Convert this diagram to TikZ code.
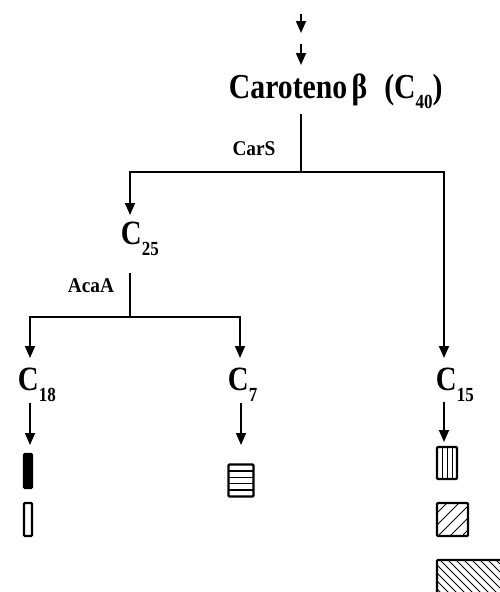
\documentclass[tikz,border=0pt]{standalone}
\usepackage{fontspec}
\setmainfont{Liberation Serif}
\usetikzlibrary{arrows.meta}
\newcommand{\bigC}[1]{\scalebox{0.85}[1]{\fontsize{34}{34}\selectfont\bfseries C\raisebox{-11pt}{\fontsize{20}{20}\selectfont #1}}}
\begin{document}
\begin{tikzpicture}[x=1pt,y=-1pt,line width=1.8pt,
  arr/.style={-{Triangle[length=12pt,width=10pt]}},
  txt/.style={inner sep=0pt,anchor=base west},
  enz/.style={inner sep=0pt,font=\fontsize{21}{21}\selectfont\bfseries},
  boxed/.style={draw,inner sep=0pt,line width=2.4pt,rounded corners=1pt},
  hatch/.style={line width=0.8pt}]
\useasboundingbox (0,0) rectangle (500,592);
\clip (0,0) rectangle (500,592);
% top arrows
\coordinate (t1s) at (301,14); \coordinate (t1e) at (301,33);
\coordinate (t2s) at (301,44); \coordinate (t2e) at (301,65);
\draw[arr] (t1s) -- (t1e);
\draw[arr] (t2s) -- (t2e);
% Caroteno
\node[txt] (car) at (228,98) {\scalebox{0.85}[1]{\fontsize{35}{35}\selectfont\bfseries Caroteno\hspace{5pt}β\hspace{20pt}(C\raisebox{-10pt}{\fontsize{20}{20}\selectfont 40})}};
\coordinate (carb) at (301,114);
\coordinate (j1) at (301,172);
\coordinate (c25in) at (130,215);
\coordinate (c15in) at (444,358);
\draw (carb) -- (j1);
\draw[arr] (j1) -| (c25in);
\draw[arr] (j1) -| (c15in);
\node[enz] (cars) at (254,149) {\scalebox{0.92}[1]{CarS}};
% C25
\node[txt] (c25) at (120,244) {\bigC{25}};
\coordinate (c25b) at (130,273);
\coordinate (j2) at (130,317);
\coordinate (c18in) at (30,358);
\coordinate (c7in) at (240,358);
\draw (c25b) -- (j2);
\draw[arr] (j2) -| (c18in);
\draw[arr] (j2) -| (c7in);
\node[enz] (acaa) at (91,286) {\scalebox{0.92}[1]{AcaA}};
% C18, C7, C15
\node[txt] (c18) at (17,390) {\bigC{18}};
\node[txt] (c7) at (227,390) {\bigC{7}};
\node[txt] (c15) at (435,390) {\bigC{15}};
\coordinate (a18s) at (30,403); \coordinate (a18e) at (30,445);
\coordinate (a7s) at (241,403); \coordinate (a7e) at (241,445);
\coordinate (a15s) at (444,402); \coordinate (a15e) at (444,442);
\draw[arr] (a18s) -- (a18e);
\draw[arr] (a7s) -- (a7e);
\draw[arr] (a15s) -- (a15e);
% products of C18
\node[boxed,fill=black,minimum width=8pt,minimum height=34pt] (p18a) at (28,471) {};
\node[boxed,minimum width=8pt,minimum height=33pt] (p18b) at (28,519.5) {};
% product of C7: horizontal lines
\node[boxed,minimum width=25pt,minimum height=32pt] (p7) at (241,480.5) {};
\begin{scope}
  \clip ([shift={(1.2,1.2)}]p7.north west) rectangle ([shift={(-1.2,-1.2)}]p7.south east);
  \foreach \yy in {470.9,477.3,483.7,490.1}{\draw[line width=1.3pt] (220,\yy) -- (262,\yy);}
\end{scope}
% products of C15
\node[boxed,minimum width=20pt,minimum height=32pt] (p15a) at (447,463) {};
\begin{scope}
  \clip ([shift={(1.2,1.2)}]p15a.north west) rectangle ([shift={(-1.2,-1.2)}]p15a.south east);
  \foreach \xx in {442,447,452}{\draw[line width=1pt] (\xx,440) -- (\xx,485);}
\end{scope}
\node[boxed,minimum width=31pt,minimum height=33pt] (p15b) at (452.5,519.5) {};
\begin{scope}
  \clip ([shift={(1.2,1.2)}]p15b.north west) rectangle ([shift={(-1.2,-1.2)}]p15b.south east);
  \foreach \k in {950,962,974,986,998}{\draw[hatch] (\k-545,545) -- (\k-495,495);}
\end{scope}
\node[boxed,minimum width=84pt,minimum height=50pt] (p15c) at (479,585) {};
\begin{scope}
  \clip ([shift={(1.2,1.2)}]p15c.north west) rectangle ([shift={(-1.2,-1.2)}]p15c.south east);
  \foreach \k in {-160,-152,...,-40}{\draw[hatch] (\k+550,550) -- (\k+620,620);}
\end{scope}
\end{tikzpicture}
\end{document}
